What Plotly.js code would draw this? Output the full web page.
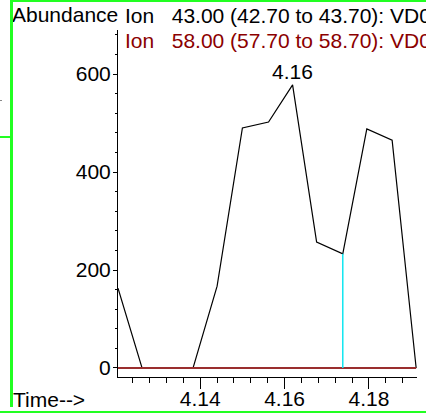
<!DOCTYPE html>
<html>
<head>
<meta charset="utf-8">
<script src="https://cdn.plot.ly/plotly-3.0.1.min.js"></script>
<style>
  html, body { margin: 0; padding: 0; background: #fff; }
  #wrap { position: relative; width: 426px; height: 413px; overflow: hidden; }
  #chart { position: absolute; left: 0; top: 0; width: 426px; height: 413px; }
  .g { position: absolute; background: #22ff22; }
</style>
</head>
<body>
<div id="wrap">
  <div id="chart"></div>
  <div class="g" style="left:10px;top:0;width:3px;height:407px;"></div>
  <div class="g" style="left:10px;top:0;width:416px;height:2px;"></div>
  <div class="g" style="left:0;top:411px;width:426px;height:2px;"></div>
  <div class="g" style="left:0;top:136px;width:10px;height:2px;"></div>
  <div style="position:absolute;left:0;top:100px;width:2px;height:1px;background:#888;"></div>
</div>
<script>
// Retention time (min)
const times = [4.1205, 4.1262, 4.1321, 4.1383, 4.1440, 4.1500, 4.1562, 4.1619, 4.1676, 4.1738, 4.1795, 4.1855, 4.1912];
// Ion 43.00 abundance
const ion43 = [163, 0, 0, 0, 167, 490, 502, 578, 257, 233, 488, 465, 0];
// Ion 58.00 abundance
const ion58 = [0, 0, 0, 0, 0, 0, 0, 0, 0, 0, 0, 0, 0];
const ion43Label = "Ion\u00a0\u00a0 43.00 (42.70 to 43.70): VD0";
const ion58Label = "Ion\u00a0\u00a0 58.00 (57.70 to 58.70): VD0";
const peakIndex = 7;
const peakLabel = "4.16";
const markerIndex = 9;
const xTicks = [4.14, 4.16, 4.18];
const yTicks = [0, 200, 400, 600];

const FONT = "Liberation Sans, Arial, sans-serif";
const FS = 21;

const traces = [
  { x: times, y: ion43, mode: "lines", line: { color: "#000000", width: 1.2 }, hoverinfo: "skip" },
  { x: times, y: ion58, mode: "lines", line: { color: "#9a2e2e", width: 2 }, hoverinfo: "skip" },
  { x: [times[markerIndex], times[markerIndex]], y: [0, ion43[markerIndex]], mode: "lines",
    line: { color: "#10e6f0", width: 1.5 }, hoverinfo: "skip" }
];

const layout = {
  width: 426, height: 413, autosize: false,
  margin: { l: 118, r: 9, t: 30, b: 36, pad: 0 },
  paper_bgcolor: "#ffffff", plot_bgcolor: "#ffffff",
  showlegend: false,
  font: { family: FONT, size: FS, color: "#000" },
  xaxis: {
    range: [4.1205, 4.1914],
    tickvals: xTicks, ticktext: xTicks.map(v => v.toFixed(2)),
    ticks: "outside", ticklen: 11, tickwidth: 1, tickcolor: "#000",
    ticklabelstandoff: -8,
    showline: true, linecolor: "#000", linewidth: 1,
    showgrid: false, zeroline: false,
    tickfont: { family: FONT, size: FS, color: "#000" },
    minor: { tick0: 4.14, dtick: 0.004, ticks: "outside", ticklen: 5, tickwidth: 1, tickcolor: "#000", showgrid: false }
  },
  yaxis: {
    range: [-18.4, 690],
    tickvals: yTicks, ticktext: yTicks.map(String),
    ticks: "outside", ticklen: 4, tickwidth: 1, tickcolor: "#000",
    ticklabelstandoff: -2,
    showline: true, linecolor: "#000", linewidth: 1,
    showgrid: false, zeroline: false,
    tickfont: { family: FONT, size: FS, color: "#000" },
    minor: { tick0: 0, dtick: 40, ticks: "outside", ticklen: 2, tickwidth: 1, tickcolor: "#000", showgrid: false }
  },
  annotations: [
    { text: "Abundance", xref: "paper", yref: "paper", x: 0, y: 1, xanchor: "left", yanchor: "middle",
      xshift: -108, yshift: 16, showarrow: false, font: { family: FONT, size: FS, color: "#000" } },
    { text: ion43Label, xref: "paper", yref: "paper", x: 0, y: 1, xanchor: "left", yanchor: "middle",
      xshift: 5, yshift: 15, showarrow: false, font: { family: FONT, size: FS, color: "#000" } },
    { text: ion58Label, xref: "paper", yref: "paper", x: 0, y: 1, xanchor: "left", yanchor: "middle",
      xshift: 5, yshift: -10, showarrow: false, font: { family: FONT, size: FS, color: "#8b0000" } },
    { text: "Time-->", xref: "paper", yref: "paper", x: 0, y: 0, xanchor: "left", yanchor: "middle",
      xshift: -107, yshift: -22, showarrow: false, font: { family: FONT, size: FS, color: "#000" } },
    { text: peakLabel, xref: "x", yref: "y", x: times[peakIndex], y: ion43[peakIndex],
      xanchor: "center", yanchor: "bottom", yshift: 0, showarrow: false,
      font: { family: FONT, size: FS, color: "#000" } }
  ]
};

Plotly.newPlot("chart", traces, layout, { staticPlot: true, displayModeBar: false });
</script>
</body>
</html>
